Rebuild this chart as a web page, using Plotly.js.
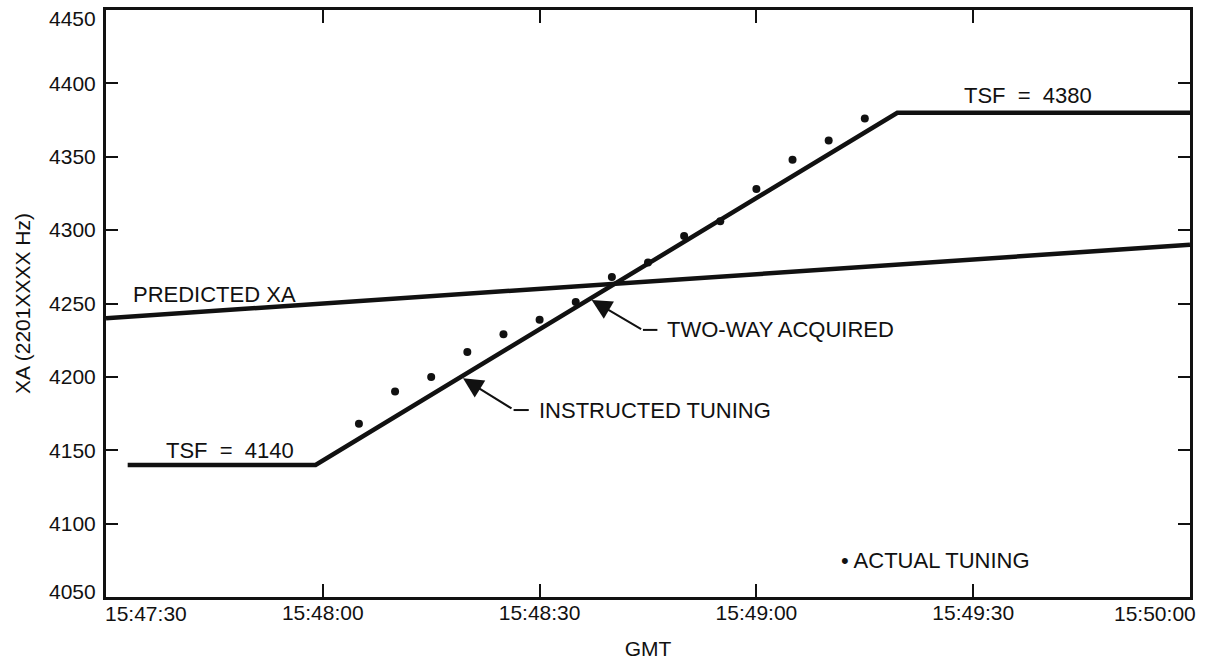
<!DOCTYPE html>
<html>
<head>
<meta charset="utf-8">
<script src="https://cdn.plot.ly/plotly-3.0.1.min.js"></script>
<style>html,body{margin:0;padding:0;background:#fff;}#chart{width:1208px;height:660px;}</style>
</head>
<body>
<div id="chart"></div>
<script>
// ---- data ----
var D = '2000-01-01 ';
var instructedTimes = ['15:47:33', '15:47:59', '15:49:19.5', '15:50:00'];
var instructedValues = [4140, 4140, 4380, 4380];

var predictedTimes = ['15:47:30', '15:50:00'];
var predictedValues = [4240, 4290];

var actualTimes = ['15:48:05', '15:48:10', '15:48:15', '15:48:20', '15:48:25', '15:48:30', '15:48:35',
                   '15:48:40', '15:48:45', '15:48:50', '15:48:55', '15:49:00', '15:49:05', '15:49:10', '15:49:15'];
var actualValues = [4168, 4190, 4200, 4217, 4229, 4239, 4251, 4268, 4278, 4296, 4306, 4328, 4348, 4361, 4376];

var xTickLabels = ['15:47:30', '15:48:00', '15:48:30', '15:49:00', '15:49:30', '15:50:00'];
var yTickLabels = [4050, 4100, 4150, 4200, 4250, 4300, 4350, 4400, 4450];

function t(s) { return D + s; }

var FONT = 'Liberation Sans, Arial, sans-serif';
var INK = '#111';
var tickFont = { family: FONT, size: 21, color: INK };

var traces = [
  { x: predictedTimes.map(t), y: predictedValues, mode: 'lines', line: { color: INK, width: 4.5 }, hoverinfo: 'skip' },
  { x: instructedTimes.map(t), y: instructedValues, mode: 'lines', line: { color: INK, width: 4.5 }, hoverinfo: 'skip' },
  { x: actualTimes.map(t), y: actualValues, mode: 'markers', marker: { color: INK, size: 8 }, hoverinfo: 'skip' }
];

var annFont = { family: FONT, size: 22, color: INK };
var annotations = [
  { x: t('15:47:38'), y: 4150, xref: 'x', yref: 'y', text: 'TSF\u00a0 =\u00a0 4140', showarrow: false, xanchor: 'left', yanchor: 'middle', font: annFont },
  { x: t('15:49:28.5'), y: 4392, xref: 'x', yref: 'y', text: 'TSF\u00a0 =\u00a0 4380', showarrow: false, xanchor: 'left', yanchor: 'middle', font: annFont },
  { x: t('15:47:33.5'), y: 4256, xref: 'x', yref: 'y', text: 'PREDICTED XA', showarrow: false, xanchor: 'left', yanchor: 'middle', font: annFont },
  { x: t('15:48:47.4'), y: 4232, xref: 'x', yref: 'y', text: 'TWO-WAY ACQUIRED', showarrow: false, xanchor: 'left', yanchor: 'middle', font: annFont },
  { x: t('15:48:29.6'), y: 4177.4, xref: 'x', yref: 'y', text: 'INSTRUCTED TUNING', showarrow: false, xanchor: 'left', yanchor: 'middle', font: annFont },
  { x: t('15:49:11.4'), y: 4075, xref: 'x', yref: 'y', text: '• ACTUAL TUNING', showarrow: false, xanchor: 'left', yanchor: 'middle', font: annFont },
  // arrows
  { x: t('15:48:37.2'), y: 4252.4, xref: 'x', yref: 'y', text: '', showarrow: true, ax: 51, ay: 30,
    arrowhead: 2, arrowsize: 2, arrowwidth: 2, arrowcolor: INK, standoff: 0 },
  { x: t('15:48:19.4'), y: 4199, xref: 'x', yref: 'y', text: '', showarrow: true, ax: 50, ay: 31,
    arrowhead: 2, arrowsize: 2, arrowwidth: 2, arrowcolor: INK, standoff: 0 },
  // end tick labels, aligned inward as in the original
  { x: t(xTickLabels[0]), y: 0, xref: 'x', yref: 'paper', text: xTickLabels[0], showarrow: false,
    xanchor: 'left', yanchor: 'middle', xshift: -3, yshift: -16, font: tickFont },
  { x: t(xTickLabels[xTickLabels.length - 1]), y: 0, xref: 'x', yref: 'paper', text: xTickLabels[xTickLabels.length - 1], showarrow: false,
    xanchor: 'right', yanchor: 'middle', xshift: 8, yshift: -16, font: tickFont },
  { x: 0, y: yTickLabels[0], xref: 'paper', yref: 'y', text: String(yTickLabels[0]), showarrow: false,
    xanchor: 'right', yanchor: 'middle', xshift: -8, yshift: 6, font: tickFont },
  { x: 0, y: yTickLabels[yTickLabels.length - 1], xref: 'paper', yref: 'y', text: String(yTickLabels[yTickLabels.length - 1]), showarrow: false,
    xanchor: 'right', yanchor: 'middle', xshift: -8, yshift: -8, font: tickFont }
];

var shapes = [
  { type: 'line', xref: 'x', yref: 'y', x0: t('15:48:44.3'), x1: t('15:48:46.3'), y0: 4232, y1: 4232, line: { color: INK, width: 2 } },
  { type: 'line', xref: 'x', yref: 'y', x0: t('15:48:26.4'), x1: t('15:48:28.5'), y0: 4177.4, y1: 4177.4, line: { color: INK, width: 2 } }
];

var xText = xTickLabels.map(function (s, i) { return (i === 0 || i === xTickLabels.length - 1) ? '' : s; });
var yText = yTickLabels.map(function (v, i) { return (i === 0 || i === yTickLabels.length - 1) ? '' : String(v); });

var layout = {
  width: 1208, height: 660,
  margin: { l: 106, r: 18, t: 10, b: 63 },
  paper_bgcolor: '#fff', plot_bgcolor: '#fff',
  showlegend: false,
  font: { family: FONT, size: 21, color: INK },
  xaxis: {
    type: 'date',
    range: [t('15:47:30'), t('15:50:00')],
    tickvals: xTickLabels.map(t),
    ticktext: xText,
    showgrid: false, zeroline: false,
    showline: true, linecolor: INK, linewidth: 3, mirror: 'ticks',
    ticks: 'inside', ticklen: 13, tickwidth: 2, tickcolor: INK,
    tickfont: tickFont,
    ticklabelstandoff: -5,
    title: { text: 'GMT', font: tickFont, standoff: 19 }
  },
  yaxis: {
    range: [4050, 4450],
    tickvals: yTickLabels,
    ticktext: yText,
    showgrid: false, zeroline: false,
    showline: true, linecolor: INK, linewidth: 3, mirror: 'ticks',
    ticks: 'inside', ticklen: 12, tickwidth: 2, tickcolor: INK,
    tickfont: tickFont,
    ticklabelstandoff: 3,
    title: { text: 'XA (2201XXXX Hz)', font: tickFont, standoff: 13 }
  },
  annotations: annotations,
  shapes: shapes
};

Plotly.newPlot('chart', traces, layout, { staticPlot: true, displayModeBar: false });
</script>
</body>
</html>
